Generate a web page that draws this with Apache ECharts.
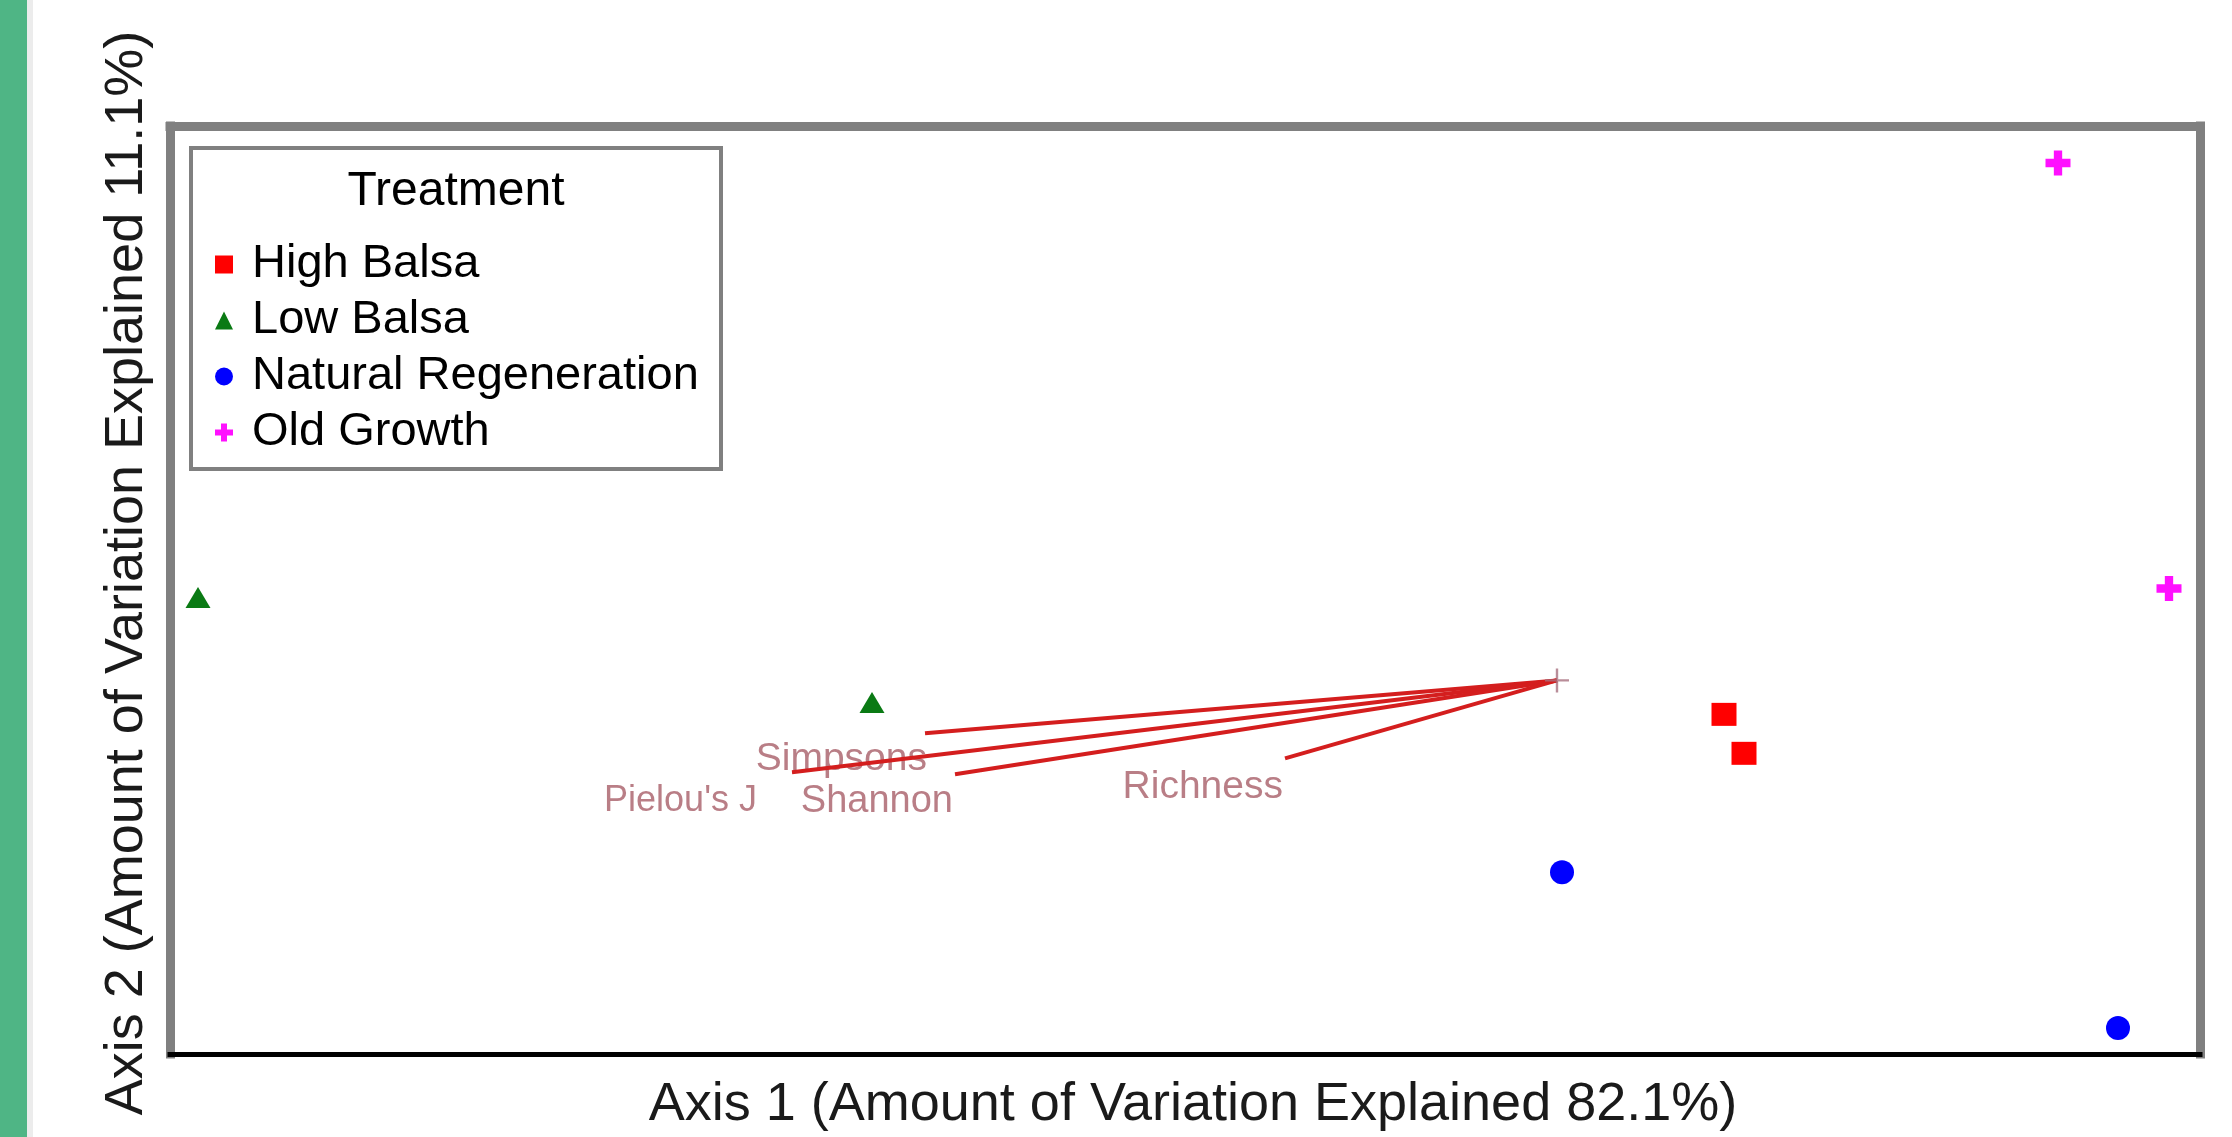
<!DOCTYPE html>
<html>
<head>
<meta charset="utf-8">
<script src="https://cdn.jsdelivr.net/npm/echarts@6/dist/echarts.min.js"></script>
<style>
html,body{margin:0;padding:0;background:#fff;}
#chart{width:2232px;height:1137px;}
</style>
</head>
<body>
<div id="chart"></div>
<script>
// ---- data (ordination scores; vectors radiate from the centroid at 0,0) ----
const treatments = ['High Balsa', 'Low Balsa', 'Natural Regeneration', 'Old Growth'];
const highBalsa = [[0.334, -0.068], [0.374, -0.146]];
const lowBalsa = [[-2.718, 0.166], [-1.370, -0.044]];
const naturalRegeneration = [[0.010, -0.384], [1.122, -0.696]];
const oldGrowth = [[1.002, 1.036], [1.224, 0.184]];
const vectorNames = ['Simpsons', "Pielou's J", 'Shannon', 'Richness'];
const vectorEnds = [[-1.264, -0.106], [-1.530, -0.184], [-1.204, -0.188], [-0.544, -0.156]];
const vectorOrigin = [0, 0];
const xRange = [-2.774, 1.286];
const yRange = [-0.748, 1.110];
const xTitle = 'Axis 1 (Amount of Variation Explained 82.1%)';
const yTitle = 'Axis 2 (Amount of Variation Explained 11.1%)';
const legendTitle = 'Treatment';

// ---- styles ----
const FONT = "'Liberation Sans', Arial, sans-serif";
const seriesStyle = {
  'High Balsa': {symbol: 'rect', size: [25, 23], color: '#ff0000'},
  'Low Balsa': {symbol: 'triangle', size: [25, 21], color: '#0a7a14'},
  'Natural Regeneration': {symbol: 'circle', size: 24, color: '#0000ff'},
  'Old Growth': {symbol: 'path://M3,0H6V3H9V6H6V9H3V6H0V3H3Z', size: 25, color: '#ff10ff'}
};
const seriesData = {
  'High Balsa': highBalsa,
  'Low Balsa': lowBalsa,
  'Natural Regeneration': naturalRegeneration,
  'Old Growth': oldGrowth
};
const labelStyles = {
  'Simpsons': {offset: [2, 26], fontSize: 39},
  "Pielou's J": {offset: [-35, 29], fontSize: 36},
  'Shannon': {offset: [-2, 27], fontSize: 38},
  'Richness': {offset: [-2, 29], fontSize: 39}
};

const chart = echarts.init(document.getElementById('chart'), null, {renderer: 'canvas'});

const hiddenAxisParts = {
  axisTick: {show: false}, axisLabel: {show: false}, splitLine: {show: false}
};

const series = [];
vectorNames.forEach((n, i) => {
  series.push({
    name: 'vector ' + n, type: 'line', silent: true, z: 5,
    symbol: 'none', data: [vectorOrigin, vectorEnds[i]],
    lineStyle: {color: '#d41e1e', width: 4}
  });
});
series.push({
  name: 'vector labels', type: 'scatter', silent: true, z: 4, symbolSize: 0,
  data: vectorNames.map((n, i) => ({
    name: n, value: vectorEnds[i],
    label: {offset: labelStyles[n].offset, fontSize: labelStyles[n].fontSize}
  })),
  label: {show: true, position: 'left', distance: 0, formatter: '{b}',
    fontSize: 39, color: '#a85e68', fontFamily: FONT}
});
series.push({
  name: 'origin', type: 'scatter', silent: true, z: 6,
  data: [vectorOrigin],
  symbol: 'path://M9,0H11V9H20V11H11V20H9V11H0V9H9Z', symbolSize: 24,
  itemStyle: {color: '#a87080'}
});
treatments.forEach(t => {
  const s = seriesStyle[t];
  series.push({
    name: t, type: 'scatter', z: 7,
    data: seriesData[t], symbol: s.symbol, symbolSize: s.size,
    itemStyle: {color: s.color, opacity: 1}
  });
});

const option = {
  animation: false,
  backgroundColor: '#ffffff',
  textStyle: {fontFamily: FONT},
  grid: {left: 170, right: 32, top: 126, bottom: 82},
  xAxis: [
    Object.assign({
      type: 'value', min: xRange[0], max: xRange[1], position: 'bottom',
      axisLine: {onZero: false, lineStyle: {color: '#000000', width: 5, cap: 'square'}},
      name: xTitle, nameLocation: 'middle', nameGap: 24,
      nameTextStyle: {fontSize: 54, color: '#1a1a1a', fontFamily: FONT, padding: [0, 0, 0, 16]}
    }, hiddenAxisParts),
    Object.assign({
      type: 'value', min: xRange[0], max: xRange[1], position: 'top',
      axisLine: {onZero: false, lineStyle: {color: '#808080', width: 9, cap: 'square'}}
    }, hiddenAxisParts)
  ],
  yAxis: [
    Object.assign({
      type: 'value', min: yRange[0], max: yRange[1], position: 'left',
      axisLine: {onZero: false, lineStyle: {color: '#808080', width: 9, cap: 'square'}},
      name: yTitle, nameLocation: 'middle', nameGap: 16,
      nameTextStyle: {fontSize: 54, color: '#1a1a1a', fontFamily: FONT, padding: [0, 0, 0, 34]}
    }, hiddenAxisParts),
    Object.assign({
      type: 'value', min: yRange[0], max: yRange[1], position: 'right',
      axisLine: {onZero: false, lineStyle: {color: '#808080', width: 9, cap: 'square'}}
    }, hiddenAxisParts)
  ],
  legend: {
    orient: 'vertical', left: 215, top: 241, padding: 0,
    itemWidth: 18, itemHeight: 18, itemGap: 9,
    selectedMode: false, z: 10,
    data: treatments.map(t => ({name: t, icon: seriesStyle[t].symbol})),
    textStyle: {fontSize: 47, color: '#000', fontFamily: FONT, padding: [0, 0, 0, 14]}
  },
  graphic: [
    {type: 'rect', left: 0, top: 0, z: 1, shape: {width: 27, height: 1137}, style: {fill: '#4fb585'}},
    {type: 'rect', left: 27, top: 0, z: 1, shape: {width: 6, height: 1137}, style: {fill: '#ececec'}},
    {type: 'rect', z: 9, shape: {x: 191, y: 148, width: 530, height: 321},
      style: {fill: '#ffffff', stroke: '#808080', lineWidth: 4}},
    {type: 'text', z: 11, x: 456, y: 192,
      style: {text: legendTitle, fontSize: 48, fill: '#000', fontFamily: FONT,
        align: 'center', verticalAlign: 'middle'}}
  ],
  series: series
};
chart.setOption(option);
</script>
</body>
</html>
